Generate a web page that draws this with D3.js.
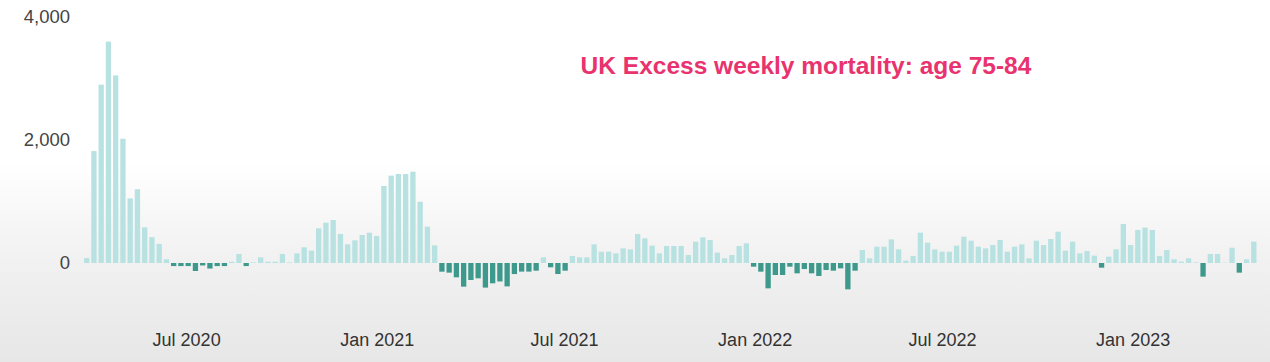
<!DOCTYPE html>
<html>
<head>
<meta charset="utf-8">
<script src="https://cdn.jsdelivr.net/npm/d3@7"></script>
<style>
  html, body { margin: 0; padding: 0; }
  body {
    width: 1270px; height: 362px; overflow: hidden;
    background: linear-gradient(to bottom, #ffffff 0%, #ffffff 45%, #f1f1f1 72%, #e7e7e7 100%);
    font-family: "Liberation Sans", Arial, sans-serif;
  }
</style>
</head>
<body>
<svg id="chart" width="1270" height="362"></svg>
<script>
// weekly excess deaths, age 75-84, first week ending 27 Mar 2020
var firstWeek = new Date(2020, 2, 27);
var excess = [
  80, 1820, 2900, 3600, 3050, 2020, 1050, 1200, 580, 420,
  310, 60, -50, -50, -50, -130, -40, -90, -50, -50,
  20, 146, -50, 10, 92, 20, 20, 146, 10, 157,
  255, 200, 564, 656, 699, 472, 304, 369, 455, 493,
  439, 1252, 1420, 1447, 1447, 1485, 997, 591, 287, -141,
  -157, -233, -385, -276, -249, -400, -330, -300, -380, -180,
  -140, -140, -125, 92, -70, -179, -125, 114, 92, 92,
  303, 184, 184, 157, 238, 222, 471, 401, 282, 157,
  276, 276, 276, 130, 347, 417, 374, 168, 76, 130,
  276, 320, -60, -141, -412, -195, -195, -60, -168, -98,
  -168, -211, -114, -125, -87, -428, -125, 211, 76, 265,
  265, 385, 222, 38, 114, 493, 330, 222, 184, 184,
  282, 428, 363, 265, 238, 293, 374, 184, 265, 303,
  76, 363, 293, 390, 509, 200, 347, 157, 195, 119,
  -76, 103, 222, 634, 293, 537, 575, 537, 114, 211,
  60, 22, 76, 10, -222, 146, 146, 5, 249, -157,
  60, 347
];
var yTicks = [0, 2000, 4000];
var title = "UK Excess weekly mortality: age 75-84";

var weeks = excess.map(function(d, i) { return d3.timeDay.offset(firstWeek, 7 * i); });

var svg = d3.select("#chart");

var x = d3.scaleTime()
    .domain([weeks[0], weeks[weeks.length - 1]])
    .range([86.7, 1253.8]);

var y = d3.scaleLinear()
    .domain([0, 4000])
    .range([263, 17]);

var barW = 5.3;

svg.append("g")
  .selectAll("rect")
  .data(excess)
  .join("rect")
    .attr("x", function(d, i) { return x(weeks[i]) - barW / 2; })
    .attr("y", function(d) { return d >= 0 ? y(d) : y(0); })
    .attr("width", barW)
    .attr("height", function(d) { return Math.abs(y(d) - y(0)); })
    .attr("fill", function(d) { return d >= 0 ? "#b7e2e1" : "#3d998c"; });

// y axis labels only
var yAxis = svg.append("g")
    .attr("transform", "translate(70,0)")
    .call(d3.axisLeft(y).tickValues(yTicks).tickSize(0).tickPadding(0).tickFormat(d3.format(",")));
yAxis.select(".domain").remove();
yAxis.selectAll("text")
    .attr("font-family", "'Liberation Sans', Arial, sans-serif")
    .attr("font-size", "18.5px")
    .attr("fill", "#444");

// x axis labels
var xAxis = svg.append("g")
    .attr("transform", "translate(0,330)")
    .call(d3.axisBottom(x)
      .ticks(d3.timeMonth.every(6))
      .tickSize(0)
      .tickFormat(d3.timeFormat("%b %Y")));
xAxis.select(".domain").remove();
xAxis.selectAll("text")
    .attr("font-family", "'Liberation Sans', Arial, sans-serif")
    .attr("font-size", "18px")
    .attr("fill", "#333");

svg.append("text")
    .attr("x", 806)
    .attr("y", 74)
    .attr("text-anchor", "middle")
    .attr("font-family", "'Liberation Sans', Arial, sans-serif")
    .attr("font-weight", "bold")
    .attr("font-size", "24.5px")
    .attr("fill", "#e8336e")
    .text(title);
</script>
</body>
</html>
